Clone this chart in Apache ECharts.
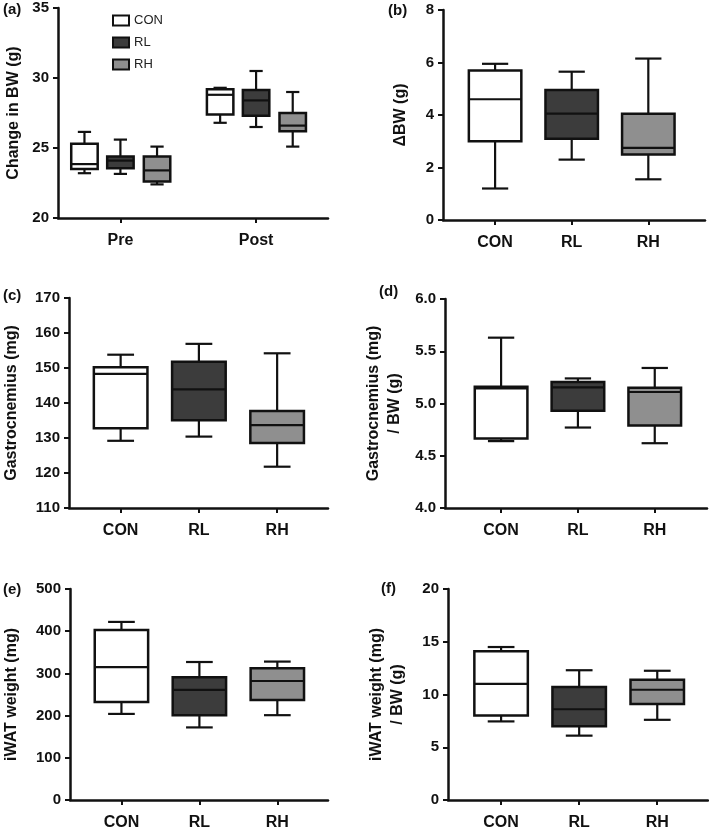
<!DOCTYPE html>
<html>
<head>
<meta charset="utf-8">
<script src="https://cdn.jsdelivr.net/npm/echarts@6/dist/echarts.min.js"></script>
<style>html,body{margin:0;padding:0;background:#fff}#c{width:709px;height:831px}</style>
</head>
<body>
<div id="c"></div>
<script>
// ---- data: each box = [min, Q1, median, Q3, max] ----
const groups = ['CON', 'RL', 'RH'];
const timepoints = ['Pre', 'Post'];
const groupColors = ['#ffffff', '#3c3c3c', '#8f8f8f'];

// (a) Change in BW (g), per timepoint (Pre, Post)
const bwCON = [[23.2, 23.5, 23.85, 25.3, 26.15], [26.8, 27.4, 28.8, 29.2, 29.3]];
const bwRL  = [[23.15, 23.55, 24.1, 24.4, 25.6], [26.5, 27.3, 28.4, 29.15, 30.5]];
const bwRH  = [[22.4, 22.6, 23.4, 24.4, 25.1], [25.1, 26.2, 26.6, 27.5, 29.0]];

// (b) ΔBW (g)
const dbwCON = [1.2, 3.0, 4.6, 5.7, 5.95];
const dbwRL  = [2.3, 3.1, 4.05, 4.95, 5.65];
const dbwRH  = [1.55, 2.5, 2.75, 4.05, 6.15];

// (c) Gastrocnemius (mg)
const gasCON = [129.2, 132.8, 148.3, 150.2, 153.8];
const gasRL  = [130.4, 135.1, 143.9, 151.8, 156.9];
const gasRH  = [121.8, 128.6, 133.7, 137.7, 154.2];

// (d) Gastrocnemius (mg) / BW (g)
const gasBwCON = [4.64, 4.665, 5.145, 5.16, 5.63];
const gasBwRL  = [4.77, 4.93, 5.155, 5.205, 5.24];
const gasBwRH  = [4.62, 4.79, 5.11, 5.15, 5.34];

// (e) iWAT weight (mg)
const iwatCON = [204, 232, 315, 403, 422];
const iwatRL  = [172, 201, 261, 291, 327];
const iwatRH  = [201, 237, 282, 312, 328];

// (f) iWAT weight (mg) / BW (g)
const iwatBwCON = [7.45, 8.0, 11.0, 14.1, 14.5];
const iwatBwRL  = [6.1, 7.0, 8.6, 10.7, 12.3];
const iwatBwRH  = [7.6, 9.1, 10.45, 11.4, 12.25];

// ---- chart ----
const FONT = 'Liberation Sans, Arial, sans-serif';
const INK = '#111111';

function makeRender(offset, ratio) {
  return function (params, api) {
    const c = api.value(0) + offset;
    const unit = api.size([1, 0])[0];
    const half = unit * ratio / 2;
    const cap = half * 0.5;
    const pMin = api.coord([c, api.value(1)]);
    const pQ1 = api.coord([c, api.value(2)]);
    const pMed = api.coord([c, api.value(3)]);
    const pQ3 = api.coord([c, api.value(4)]);
    const pMax = api.coord([c, api.value(5)]);
    const x = pMin[0];
    const ls = { stroke: INK, lineWidth: 2.2 };
    return {
      type: 'group',
      children: [
        { type: 'line', shape: { x1: x, y1: pMax[1], x2: x, y2: pMin[1] }, style: ls },
        { type: 'line', shape: { x1: x - cap, y1: pMax[1], x2: x + cap, y2: pMax[1] }, style: ls },
        { type: 'line', shape: { x1: x - cap, y1: pMin[1], x2: x + cap, y2: pMin[1] }, style: ls },
        { type: 'rect', shape: { x: x - half, y: pQ3[1], width: 2 * half, height: pQ1[1] - pQ3[1] },
          style: { fill: api.visual('color'), stroke: INK, lineWidth: 2.5 } },
        { type: 'line', shape: { x1: x - half, y1: pMed[1], x2: x + half, y2: pMed[1] }, style: { stroke: INK, lineWidth: 2.2 } }
      ]
    };
  };
}

const grids = [
  { left: 58, top: 8, width: 270, height: 210 },
  { left: 443, top: 10, width: 262, height: 210 },
  { left: 68, top: 298, width: 260, height: 210 },
  { left: 445, top: 299, width: 262, height: 209 },
  { left: 68, top: 589, width: 260, height: 211 },
  { left: 448, top: 589, width: 260, height: 211 }
];

function xAxisDef(gi, cats, min, max) {
  const vals = cats.map((_, i) => i);
  return {
    type: 'value', gridIndex: gi, min: min, max: max,
    splitLine: { show: false },
    axisLine: { show: true, onZero: false, lineStyle: { color: INK, width: 2.5 } },
    axisTick: { show: true, customValues: vals, length: 5, lineStyle: { color: INK, width: 2 } },
    axisLabel: { show: true, customValues: vals, margin: 15,
      formatter: v => cats[Math.round(v)],
      fontSize: 16, fontWeight: 'bold', fontFamily: FONT, color: INK }
  };
}

function yAxisDef(gi, min, max, interval, name, gap, decimals) {
  return {
    type: 'value', gridIndex: gi, min: min, max: max, interval: interval,
    splitLine: { show: false },
    axisLine: { show: true, onZero: false, lineStyle: { color: INK, width: 2.5 } },
    axisTick: { show: true, length: 5, lineStyle: { color: INK, width: 2 } },
    axisLabel: { margin: 9, fontSize: 15, fontWeight: 'bold', fontFamily: FONT, color: INK,
      formatter: v => decimals ? v.toFixed(decimals) : String(v) },
    name: name, nameLocation: 'middle', nameRotate: 90, nameGap: gap,
    nameTextStyle: { fontSize: 16, fontWeight: 'bold', fontFamily: FONT, color: INK, lineHeight: 21 }
  };
}

const xAxes = [
  xAxisDef(0, timepoints, -0.46, 1.53),
  xAxisDef(1, groups, -0.68, 2.74),
  xAxisDef(2, groups, -0.66, 2.65),
  xAxisDef(3, groups, -0.73, 2.68),
  xAxisDef(4, groups, -0.66, 2.65),
  xAxisDef(5, groups, -0.68, 2.65)
];
const yAxes = [
  yAxisDef(0, 20, 35, 5, 'Change in BW (g)', 34, 0),
  yAxisDef(1, 0, 8, 2, 'ΔBW (g)', 32, 0),
  yAxisDef(2, 110, 170, 10, 'Gastrocnemius (mg)', 47, 0),
  yAxisDef(3, 4, 6, 0.5, 'Gastrocnemius (mg)\n/ BW (g)', 40, 1),
  yAxisDef(4, 0, 500, 100, 'iWAT weight (mg)', 48, 0),
  yAxisDef(5, 0, 20, 5, 'iWAT weight (mg)\n/ BW (g)', 40, 0)
];

const series = [];
// panel (a): grouped boxes
const aSets = [bwCON, bwRL, bwRH];
const aOffsets = [-0.265, 0, 0.27];
aSets.forEach((set, gi) => {
  series.push({
    type: 'custom', name: groups[gi], xAxisIndex: 0, yAxisIndex: 0,
    itemStyle: { color: groupColors[gi] },
    renderItem: makeRender(aOffsets[gi], 0.195),
    data: set.map((v, i) => [i].concat(v))
  });
});
// panels (b)-(f)
const panels = [
  [dbwCON, dbwRL, dbwRH],
  [gasCON, gasRL, gasRH],
  [gasBwCON, gasBwRL, gasBwRH],
  [iwatCON, iwatRL, iwatRH],
  [iwatBwCON, iwatBwRL, iwatBwRH]
];
panels.forEach((sets, pi) => {
  sets.forEach((vals, gi) => {
    series.push({
      type: 'custom', name: groups[gi], xAxisIndex: pi + 1, yAxisIndex: pi + 1,
      itemStyle: { color: groupColors[gi] },
      renderItem: makeRender(0, 0.685),
      data: [[gi].concat(vals)]
    });
  });
});

const panelLabels = [
  ['(a)', 3, 10], ['(b)', 388, 11], ['(c)', 3, 296],
  ['(d)', 379, 292], ['(e)', 3, 590], ['(f)', 381, 589]
];

const chart = echarts.init(document.getElementById('c'), null, { renderer: 'canvas' });
chart.setOption({
  animation: false,
  backgroundColor: '#ffffff',
  grid: grids,
  xAxis: xAxes,
  yAxis: yAxes,
  legend: {
    data: groups, orient: 'vertical', left: 107, top: 9,
    icon: 'rect', itemWidth: 16, itemHeight: 10, itemGap: 9,
    selectedMode: false,
    itemStyle: { borderColor: INK, borderWidth: 2 },
    textStyle: { fontSize: 13, fontFamily: FONT, color: '#222' }
  },
  graphic: panelLabels.map(p => ({
    type: 'text', left: p[1], top: p[2] - 8,
    style: { text: p[0], font: 'bold 15px ' + FONT, fill: INK }
  })),
  series: series
});
</script>
</body>
</html>
